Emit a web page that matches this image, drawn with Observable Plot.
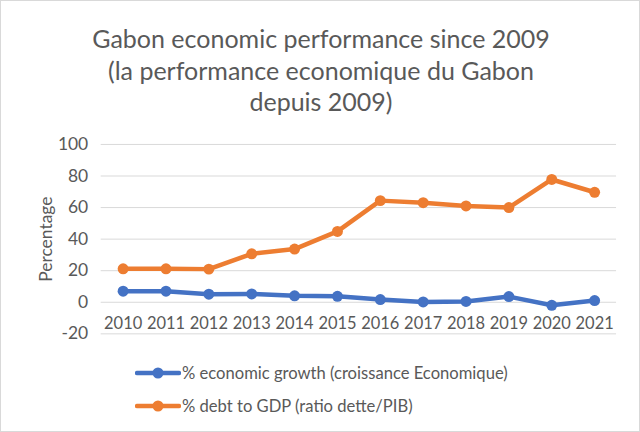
<!DOCTYPE html>
<html>
<head>
<meta charset="utf-8">
<script src="https://cdn.jsdelivr.net/npm/d3@7"></script>
<script src="https://cdn.jsdelivr.net/npm/@observablehq/plot@0.6"></script>
<style>
  html, body { margin: 0; padding: 0; background: #fff; }
  #wrap { position: relative; width: 640px; height: 432px; box-sizing: border-box; border: 1px solid #d9d9d9; background: #fff; font-family: Lato, "Open Sans", sans-serif; color: #595959; overflow: hidden; }
  #title { position: absolute; left: 0; top: 22px; width: 640px; text-align: center; font-size: 25px; line-height: 31.5px; color: #595959; }
  #plot { position: absolute; left: -1px; top: 124px; }
  #legend { position: absolute; left: 134px; top: 355px; font-size: 16.6px; color: #595959; }
  .item { display: flex; align-items: center; height: 33px; }
  .item svg { margin-right: 1px; }
</style>
</head>
<body>
<div id="wrap">
  <div id="title"></div>
  <div id="plot"></div>
  <div id="legend"></div>
</div>
<script>
const titleLines = ["Gabon economic performance since 2009", "(la performance economique du Gabon", "depuis 2009)"];
const years = [2010, 2011, 2012, 2013, 2014, 2015, 2016, 2017, 2018, 2019, 2020, 2021];
const growth = [7.0, 7.0, 5.1, 5.3, 4.1, 3.8, 1.7, 0.2, 0.5, 3.6, -1.9, 1.1];
const debt = [21.2, 21.2, 21.0, 30.7, 33.7, 44.9, 64.4, 63.1, 61.0, 60.0, 77.8, 69.7];
const seriesNames = ["% economic growth (croissance Economique)", "% debt to GDP (ratio dette/PIB)"];
const seriesColors = ["#4472C4", "#ED7D31"];
const yTicks = [-20, 0, 20, 40, 60, 80, 100];
const yLabel = "Percentage";
const xAxisCrossing = 0;

document.getElementById("title").innerHTML = titleLines.map(s => `<div>${s}</div>`).join("");

const data = [];
years.forEach((y, i) => {
  data.push({year: String(y), value: growth[i], series: seriesNames[0]});
  data.push({year: String(y), value: debt[i], series: seriesNames[1]});
});

const chart = Plot.plot({
  width: 641,
  height: 226,
  marginTop: 19,
  marginBottom: 17,
  marginLeft: 101,
  marginRight: 23,
  style: {fontFamily: "Lato, 'Open Sans', sans-serif", fontSize: "16px", color: "#595959", background: "transparent", overflow: "visible"},
  x: {type: "point", domain: years.map(String), padding: 0.5, axis: null},
  y: {domain: [-20, 100], ticks: yTicks, label: yLabel, labelAnchor: "center"},
  color: {domain: seriesNames, range: seriesColors},
  marks: [
    Plot.gridY(yTicks, {stroke: "#d9d9d9", strokeOpacity: 1, strokeWidth: 1}),
    Plot.axisY(yTicks, {tickSize: 0, tickPadding: 13, fontSize: 17.5, fill: "#595959", tickFormat: d => String(d), label: yLabel, labelAnchor: "center", labelOffset: 62, labelArrow: "none"}),
    Plot.text(years.map(String), {x: d => d, y: () => xAxisCrossing, dy: 22, fontSize: 16.5, fill: "#595959"}),
    Plot.line(data, {x: "year", y: "value", z: "series", stroke: "series", strokeWidth: 4.5, strokeLinejoin: "round"}),
    Plot.dot(data, {x: "year", y: "value", fill: "series", r: 5.5})
  ]
});
chart.querySelectorAll("[aria-label='y-axis label']").forEach(el => { el.setAttribute("font-size", "17.5"); });
document.getElementById("plot").appendChild(chart);

const legend = document.getElementById("legend");
seriesNames.forEach((name, i) => {
  const div = document.createElement("div");
  div.className = "item";
  div.innerHTML = `<svg width="46" height="14"><line x1="2" y1="7" x2="44" y2="7" stroke="${seriesColors[i]}" stroke-width="4.5" stroke-linecap="round"/><circle cx="23" cy="7" r="5.5" fill="${seriesColors[i]}"/></svg><span>${name}</span>`;
  legend.appendChild(div);
});
</script>
</body>
</html>
